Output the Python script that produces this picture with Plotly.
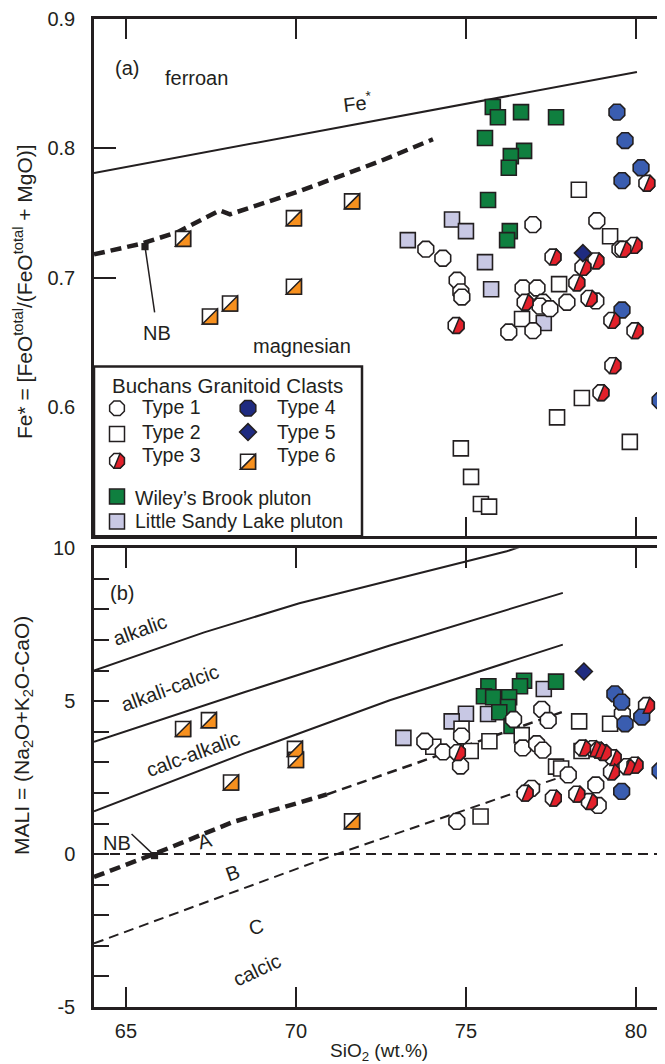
import plotly.graph_objects as go

INK = "#231f20"
FONT = "Liberation Sans, Arial, Helvetica, sans-serif"
GREEN = "#0f7f3f"
LAV = "#c8c8e4"
BLUE = "#3a5db0"
NAVY = "#1f2b80"
RED = "#e2202a"
ORANGE = "#f7901e"

# ---------------- (a) Fe* vs SiO2 ----------------
wb_si_a = [75.79, 75.94, 76.62, 77.65, 75.56, 76.71, 76.32, 76.26, 75.65, 76.29, 76.21]
wb_fe_a = [0.832, 0.824, 0.828, 0.824, 0.808, 0.798, 0.794, 0.785, 0.760, 0.736, 0.729]
lsl_si_a = [74.59, 75.00, 73.29, 75.56, 75.74, 77.29]
lsl_fe_a = [0.745, 0.736, 0.729, 0.712, 0.691, 0.665]
t1_si_a = [76.97, 78.85, 73.82, 74.32, 74.74, 74.85, 74.88, 76.68, 77.09, 77.26, 77.18, 77.47,
           77.97, 78.82, 76.26, 76.97, 79.53]
t1_fe_a = [0.741, 0.744, 0.722, 0.715, 0.698, 0.689, 0.685, 0.692, 0.692, 0.681, 0.678, 0.676,
           0.681, 0.682, 0.658, 0.659, 0.722]
t2_si_a = [78.32, 79.24, 77.74, 76.65, 78.41, 77.68, 74.85, 75.15, 75.44, 75.68, 79.82]
t2_fe_a = [0.768, 0.732, 0.695, 0.668, 0.607, 0.592, 0.568, 0.546, 0.525, 0.523, 0.573]
t3_si_a = [77.56, 78.82, 78.44, 78.26, 76.74, 78.62, 74.71, 79.29, 79.97, 79.32, 78.97, 79.62,
           79.94, 80.32]
t3_fe_a = [0.716, 0.713, 0.708, 0.696, 0.681, 0.684, 0.663, 0.667, 0.659, 0.632, 0.611, 0.722,
           0.725, 0.773]
t4_si_a = [79.44, 79.68, 80.15, 79.59, 79.59, 80.71]
t4_fe_a = [0.828, 0.806, 0.785, 0.775, 0.675, 0.605]
t5_si_a = [78.44]
t5_fe_a = [0.719]
t6_si_a = [66.68, 69.94, 71.65, 67.47, 68.06, 69.94]
t6_fe_a = [0.730, 0.746, 0.759, 0.670, 0.680, 0.693]

fe_line_si = [64.06, 80.03]
fe_line_fe = [0.781, 0.859]
nb_a_si = [64.06, 65.41, 66.50, 67.76, 68.06, 70.12, 72.47, 74.03]
nb_a_fe = [0.718, 0.726, 0.735, 0.752, 0.749, 0.767, 0.790, 0.807]

# ---------------- (b) MALI vs SiO2 ----------------
wb_si_b = [76.71, 76.59, 77.65, 75.66, 75.53, 75.80, 76.27, 76.24, 75.98, 76.34]
wb_ma_b = [5.67, 5.49, 5.64, 5.49, 5.16, 5.13, 5.13, 4.81, 4.64, 4.19]
lsl_si_b = [77.29, 75.00, 74.58, 73.16, 75.65]
lsl_ma_b = [5.40, 4.59, 4.34, 3.80, 4.58]
t1_si_b = [73.79, 74.33, 74.87, 74.84, 77.23, 77.42, 76.67, 77.08, 77.26, 78.01, 78.82, 78.89,
           74.73, 76.93, 76.40, 79.60]
t1_ma_b = [3.69, 3.34, 3.86, 2.88, 4.73, 4.37, 3.47, 3.61, 3.40, 2.59, 2.26, 1.59,
           1.07, 2.15, 4.40, 4.60]
t2_si_b = [78.33, 79.24, 76.64, 75.69, 74.04, 75.14, 78.40, 77.65, 77.80, 75.43, 74.87]
t2_ma_b = [4.34, 4.26, 3.89, 3.69, 3.51, 3.37, 3.37, 2.86, 2.80, 1.23, 4.10]
t3_si_b = [78.43, 78.74, 78.89, 79.04, 79.33, 79.28, 79.73, 79.97, 80.31, 76.74, 77.57, 78.26,
           78.63, 74.75]
t3_ma_b = [3.47, 3.45, 3.40, 3.32, 3.15, 2.69, 2.86, 2.91, 4.86, 1.99, 1.83, 1.96,
           1.72, 3.32]
t4_si_b = [79.38, 79.58, 79.68, 80.17, 79.58, 80.71]
t4_ma_b = [5.24, 4.97, 4.26, 4.48, 2.05, 2.72]
t5_si_b = [78.47]
t5_ma_b = [5.97]
t6_si_b = [66.68, 67.44, 69.97, 70.00, 68.09, 71.65]
t6_ma_b = [4.09, 4.38, 3.44, 3.08, 2.34, 1.07]

alk_si = [64.06, 67.30, 70.10, 72.80, 76.20, 76.60]
alk_ma = [6.00, 7.25, 8.20, 8.95, 9.90, 10.05]
ac_si = [64.06, 68.50, 72.76, 77.85]
ac_ma = [3.67, 5.30, 6.82, 8.54]
ca_si = [64.06, 68.50, 72.76, 77.85]
ca_ma = [1.40, 3.30, 5.03, 6.85]
nb_b_si = [64.06, 65.82, 68.15, 70.91]
nb_b_ma = [-0.75, 0.00, 1.05, 1.95]
nb_b2_si = [70.91, 77.82]
nb_b2_ma = [1.95, 4.64]
bc_si = [64.06, 71.20, 77.82]
bc_ma = [-2.92, 0.00, 2.53]
zero_si = [64.06, 81.10]
zero_ma = [0.0, 0.0]

a_ticks = [0.6, 0.7, 0.8, 0.9]
a_ticktext = ["0.6", "0.7", "0.8", "0.9"]
b_ticks = [-5, 0, 5, 10]
b_ticktext = ["-5", "0", "5", "10"]
x_ticks = [65, 70, 75, 80]

X0, X1 = 64.06, 81.09

fig = go.Figure()


def line(x, y, ax, width=2, dash=None):
    fig.add_trace(go.Scatter(x=x, y=y, xaxis=ax[0], yaxis=ax[1], mode="lines",
                             line=dict(color=INK, width=width, dash=dash),
                             showlegend=False, hoverinfo="skip"))


def pts(x, y, ax, symbol, fill, size):
    fig.add_trace(go.Scatter(x=x, y=y, xaxis=ax[0], yaxis=ax[1], mode="markers",
                             marker=dict(symbol=symbol, color=fill, size=size,
                                         line=dict(color=INK, width=1.6)),
                             showlegend=False, hoverinfo="skip"))


def path_of(p):
    return "M " + " L ".join(f"{a:.2f} {b:.2f}" for a, b in p) + " Z"


def oct_pts(S):
    r = S / 2.0
    a, b = 0.92 * r, 0.38 * r
    return [(-b, a), (b, a), (a, b), (a, -b), (b, -a), (-b, -a), (-a, -b), (-a, b)]


def half_oct_pts(S):
    r = S / 2.0
    a, b = 0.92 * r, 0.38 * r
    return [(b, a), (a, b), (a, -b), (b, -a), (-b, -a)]


def sq_pts(S):
    s = S / 2.0
    return [(-s, s), (s, s), (s, -s), (-s, -s)]


def half_sq_pts(S):
    s = S / 2.0
    return [(s, s), (s, -s), (-s, -s)]


def dia_pts(S):
    d = 1.3 * S / 2.0
    return [(d, 0), (0, d), (-d, 0), (0, -d)]


shapes = []


def glyph(x, y, xr, yr, p, fill, lw=1.5):
    shapes.append(dict(type="path", xref=xr, yref=yr, xsizemode="pixel", ysizemode="pixel",
                       xanchor=x, yanchor=y, path=path_of(p), fillcolor=fill,
                       line=dict(color=INK, width=lw), layer="above"))


OCT = 17
SQ = 15
A = ("x", "y")
B = ("x2", "y2")

# panel (a)
line(fe_line_si, fe_line_fe, A, 2)
line(nb_a_si, nb_a_fe, A, 4.5, "11px,6px")
pts(lsl_si_a, lsl_fe_a, A, "square", LAV, SQ)
pts(wb_si_a, wb_fe_a, A, "square", GREEN, SQ)
pts(t2_si_a, t2_fe_a, A, "square", "white", SQ)
pts(t1_si_a, t1_fe_a, A, "octagon", "white", OCT)
pts(t3_si_a, t3_fe_a, A, "octagon", "white", OCT)
pts(t6_si_a, t6_fe_a, A, "square", "white", SQ)
pts(t4_si_a, t4_fe_a, A, "octagon", BLUE, OCT)
pts(t5_si_a, t5_fe_a, A, "diamond", NAVY, 13)
for xv, yv in zip(t3_si_a, t3_fe_a):
    glyph(xv, yv, "x", "y", half_oct_pts(OCT), RED)
for xv, yv in zip(t6_si_a, t6_fe_a):
    glyph(xv, yv, "x", "y", half_sq_pts(SQ), ORANGE)

# panel (b)
line(zero_si, zero_ma, B, 2, "10px,6px")
line(alk_si, alk_ma, B, 2)
line(ac_si, ac_ma, B, 2)
line(ca_si, ca_ma, B, 2)
line(nb_b_si, nb_b_ma, B, 4.5, "11px,6px")
line(nb_b2_si, nb_b2_ma, B, 2.5, "10px,6px")
line(bc_si, bc_ma, B, 2, "10px,6px")
pts(lsl_si_b, lsl_ma_b, B, "square", LAV, SQ)
pts(wb_si_b, wb_ma_b, B, "square", GREEN, SQ)
pts(t2_si_b, t2_ma_b, B, "square", "white", SQ)
pts(t1_si_b, t1_ma_b, B, "octagon", "white", OCT)
pts(t3_si_b, t3_ma_b, B, "octagon", "white", OCT)
pts(t6_si_b, t6_ma_b, B, "square", "white", SQ)
pts(t4_si_b, t4_ma_b, B, "octagon", BLUE, OCT)
pts(t5_si_b, t5_ma_b, B, "diamond", NAVY, 13)
for xv, yv in zip(t3_si_b, t3_ma_b):
    glyph(xv, yv, "x2", "y2", half_oct_pts(OCT), RED)
for xv, yv in zip(t6_si_b, t6_ma_b):
    glyph(xv, yv, "x2", "y2", half_sq_pts(SQ), ORANGE)

# ---------------- layout geometry (page has an 8px body margin) ----------------
W, H = 665, 1064
ML, MR, MT, MB = 86, 0, 4, 65
PW, PH = W - ML - MR, H - MT - MB
OFF = 8


def px(xs):
    return (xs - OFF - ML) / PW


def py(ys):
    return (H - MB - (ys - OFF)) / PH


# ---------------- legend (manual) ----------------
shapes.append(dict(type="rect", xref="paper", yref="paper", x0=px(94), x1=px(362),
                   y0=py(533), y1=py(362), fillcolor="white",
                   line=dict(color=INK, width=2.5), layer="above"))

leg_sym = [
    (117, 404, oct_pts(16), "white", None),
    (117, 430, sq_pts(15), "white", None),
    (117, 457, oct_pts(16), "white", half_oct_pts(16)),
    (248, 404, oct_pts(17), NAVY, None),
    (248, 428, dia_pts(13), NAVY, None),
    (248, 458, sq_pts(15), "white", half_sq_pts(15)),
    (117, 493, sq_pts(15), GREEN, None),
    (117, 518, sq_pts(15), LAV, None),
]
for xs_, ys_, p, fill, half in leg_sym:
    glyph(px(xs_), py(ys_), "paper", "paper", p, fill)
    if half is not None:
        glyph(px(xs_), py(ys_), "paper", "paper", half, RED if len(half) == 5 else ORANGE)

annotations = []


def text(s, x, y, xr, yr, size=20, angle=0, xanchor="center", yanchor="middle"):
    annotations.append(dict(text=s, x=x, y=y, xref=xr, yref=yr, showarrow=False,
                            textangle=angle, xanchor=xanchor, yanchor=yanchor,
                            font=dict(family=FONT, size=size, color=INK)))


text("Buchans Granitoid Clasts", px(227), py(381), "paper", "paper", 20.5)
for s, xs_, ys_ in [("Type 1", 140, 403), ("Type 2", 140, 428), ("Type 3", 140, 451),
                    ("Type 4", 275, 403), ("Type 5", 275, 428), ("Type 6", 275, 451),
                    ("Wiley’s Brook pluton", 133, 494),
                    ("Little Sandy Lake pluton", 133, 518)]:
    text(s, px(xs_), py(ys_), "paper", "paper", 19.5, xanchor="left")

# panel labels (a)
text("(a)", 65.03, 0.862, "x", "y")
text("ferroan", 67.06, 0.854, "x", "y")
text("Fe<sup>*</sup>", 71.82, 0.836, "x", "y", angle=-7)
text("NB", 65.91, 0.657, "x", "y")
text("magnesian", 70.18, 0.647, "x", "y")
annotations.append(dict(x=65.56, y=0.724, ax=65.85, ay=0.672, xref="x", yref="y",
                        axref="x", ayref="y", text="", showarrow=True, arrowhead=7,
                        arrowsize=1.2, arrowwidth=1.5, arrowcolor=INK))

# panel labels (b)
text("(b)", 64.88, 8.54, "x2", "y2")
text("alkalic", 65.41, 7.34, "x2", "y2", angle=-20)
text("alkali-calcic", 66.29, 5.42, "x2", "y2", angle=-20)
text("calc-alkalic", 66.97, 3.28, "x2", "y2", angle=-20)
text("NB", 64.74, 0.36, "x2", "y2")
text("A", 67.32, 0.42, "x2", "y2", angle=-15)
text("B", 68.12, -0.62, "x2", "y2", angle=-20)
text("C", 68.82, -2.40, "x2", "y2", angle=-15)
text("calcic", 68.85, -3.80, "x2", "y2", angle=-25)
annotations.append(dict(x=65.84, y=-0.05, ax=65.12, ay=0.70, xref="x2", yref="y2",
                        axref="x2", ayref="y2", text="", showarrow=True, arrowhead=7,
                        arrowsize=1.2, arrowwidth=1.5, arrowcolor=INK))

# axis titles
text("Fe* = [FeO<sup>total</sup>/(FeO<sup>total</sup> + MgO)]", px(23), py(287), "paper", "paper",
     21, angle=-90)
text("MALI = (Na<sub>2</sub>O+K<sub>2</sub>O-CaO)", px(23), py(734), "paper", "paper", 21, angle=-90)
text("SiO<sub>2</sub> (wt.%)", px(379), py(1052), "paper", "paper", 19)

tickfont = dict(family=FONT, size=20, color=INK)
common = dict(showline=True, linecolor=INK, linewidth=2.5, ticks="inside", tickcolor=INK,
              tickwidth=2, showgrid=False, zeroline=False, tickfont=tickfont)
minor_b = dict(tickmode="linear", tick0=0, dtick=1, ticks="inside", ticklen=15, tickwidth=2,
               tickcolor=INK)

top_dom = [py(533), 1.0]
bot_dom = [0.0, py(545)]

fig.update_layout(
    width=W, height=H,
    margin=dict(l=ML, r=MR, t=MT, b=MB),
    paper_bgcolor="white", plot_bgcolor="white",
    showlegend=False,
    xaxis=dict(common, domain=[0, 1], anchor="y", range=[X0, X1], tickmode="array",
               tickvals=x_ticks, ticklen=20, mirror="ticks", showticklabels=False),
    yaxis=dict(common, domain=top_dom, anchor="x", range=[0.5, 0.9], tickmode="array",
               tickvals=a_ticks, ticktext=a_ticktext, ticklen=22, ticklabelstandoff=12),
    yaxis3=dict(overlaying="y", anchor="x", side="right", range=[0.5, 0.9], tickmode="array",
                tickvals=a_ticks, ticks="inside", ticklen=24, tickwidth=2, tickcolor=INK,
                showline=False, showgrid=False, zeroline=False, showticklabels=False),
    xaxis2=dict(common, domain=[0, 1], anchor="y2", range=[X0, X1], tickmode="array",
                tickvals=x_ticks, ticklen=20, mirror="ticks", ticklabelstandoff=4),
    yaxis2=dict(common, domain=bot_dom, anchor="x2", range=[-5, 10], tickmode="array",
                tickvals=b_ticks, ticktext=b_ticktext, ticklen=15, ticklabelstandoff=12,
                minor=minor_b),
    yaxis4=dict(overlaying="y2", anchor="x2", side="right", range=[-5, 10], tickmode="array",
                tickvals=b_ticks, ticks="inside", ticklen=15, tickwidth=2, tickcolor=INK,
                minor=minor_b, showline=False, showgrid=False, zeroline=False,
                showticklabels=False),
    shapes=shapes,
    annotations=annotations,
)

fig.write_html("out.html")
